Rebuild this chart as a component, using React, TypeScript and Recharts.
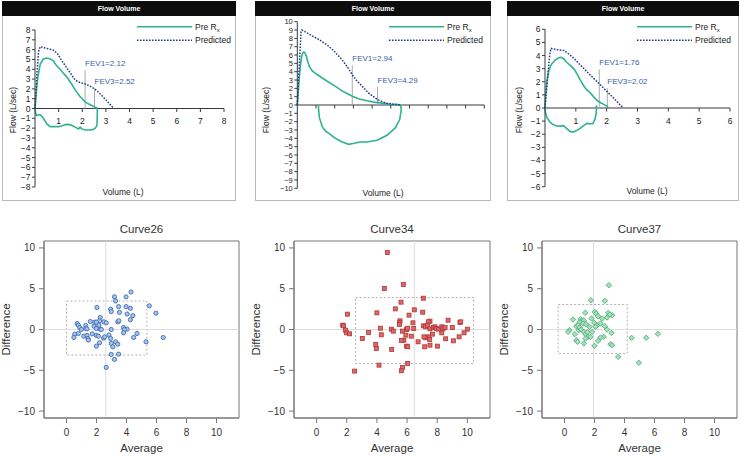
import React from 'react'
import {
  LineChart, Line, ScatterChart, Scatter, XAxis, YAxis,
  ReferenceLine, ReferenceDot, ReferenceArea, Label,
} from 'recharts'

type Pt = [number, number]

const FONT = '"Liberation Sans", Arial, Helvetica, sans-serif'
const GREEN = '#2fb38f'
const NAVY = '#1f3c8e'
const FEV_BLUE = '#3a62a8'

// ---- flow-volume loops, [volume (L), flow (L/sec)] ----
const loopAPre: Pt[] = [
  [0, 0], [0.05, 1.5], [0.12, 3.2], [0.22, 4.5], [0.35, 5.05], [0.5, 5.15], [0.65, 5.05],
  [0.78, 4.85], [0.9, 4.4], [1.0, 4.15], [1.15, 3.75], [1.35, 3.2], [1.55, 2.5], [1.7, 1.9],
  [1.9, 1.25], [2.06, 0.82], [2.2, 0.55], [2.4, 0.3], [2.55, 0.12], [2.63, 0.05],
  [2.64, -0.2], [2.63, -1.2], [2.62, -1.74], [2.55, -2.0], [2.41, -2.19], [2.13, -2.19],
  [1.98, -2.08], [1.91, -1.9], [1.84, -2.08], [1.7, -1.9], [1.55, -1.7], [1.4, -1.62],
  [1.28, -1.64], [1.15, -1.75], [1.0, -1.85], [0.64, -1.85], [0.5, -1.57], [0.33, -0.9],
  [0.21, -0.62], [0.07, -0.72], [0.02, -0.4], [0, 0],
]
const loopAPred: Pt[] = [
  [0, 0], [0.08, 3.5], [0.15, 5.8], [0.22, 6.3], [0.45, 6.15], [0.78, 5.95], [0.95, 5.6],
  [1.1, 5.0], [1.3, 4.3], [1.5, 3.6], [1.7, 2.9], [1.9, 2.65], [2.12, 2.5], [2.35, 2.25],
  [2.55, 1.95], [2.8, 1.4], [3.05, 0.75], [3.33, 0],
]
const loopAFev: Pt[] = [[2.12, 3.9], [2.52, 2.05]]
const loopAFevText = ['FEV1=2.12', 'FEV3=2.52']

const loopBPre: Pt[] = [
  [0, 0], [0.05, 1.5], [0.1, 3.2], [0.18, 5.0], [0.25, 6.0], [0.32, 6.35], [0.4, 6.3],
  [0.48, 5.9], [0.56, 5.2], [0.65, 4.6], [0.8, 4.1], [1.0, 3.75], [1.3, 3.3], [1.6, 2.85],
  [2.0, 2.3], [2.5, 1.55], [2.92, 1.08], [3.3, 0.72], [3.73, 0.5], [4.1, 0.35], [4.44, 0.25],
  [4.98, 0.08], [5.3, 0.05], [5.52, 0.02],
  [5.56, -0.52], [5.48, -1.72], [5.25, -2.72], [4.8, -3.64], [4.27, -4.24], [3.73, -4.44],
  [3.37, -4.44], [3.05, -4.6], [2.74, -4.72], [2.55, -4.55], [2.29, -4.32], [2.0, -3.95],
  [1.76, -3.52], [1.5, -3.1], [1.34, -2.64], [1.18, -1.52], [1.14, -0.6], [1.13, 0],
]
const loopBPred: Pt[] = [
  [0, 0], [0.1, 4.5], [0.2, 8.8], [0.25, 9.0], [0.45, 8.75], [0.8, 8.3], [1.2, 7.8],
  [1.6, 7.2], [2.0, 6.4], [2.4, 5.4], [2.7, 4.5], [2.95, 3.6], [3.2, 2.85], [3.46, 2.28],
  [3.8, 1.45], [4.27, 0.68], [4.6, 0.35], [4.8, 0.2], [5.25, 0.08], [5.56, 0],
]
const loopBFev: Pt[] = [[2.94, 4.77], [4.29, 2.16]]
const loopBFevText = ['FEV1=2.94', 'FEV3=4.29']

const loopCPre: Pt[] = [
  [1.67, 0.2], [1.66, -0.4], [1.62, -0.85], [1.55, -1.2], [1.45, -1.2], [1.36, -1.17],
  [1.25, -1.35], [1.14, -1.55], [1.02, -1.72], [0.93, -1.82], [0.82, -1.8], [0.7, -1.55],
  [0.6, -1.35], [0.5, -1.38], [0.38, -1.37], [0.25, -1.25], [0.15, -1.05], [0.06, -0.7],
  [0.01, -0.3], [0, 0], [0.02, 1.0], [0.06, 2.0], [0.12, 2.8], [0.2, 3.3], [0.33, 3.66],
  [0.45, 3.83], [0.52, 3.87], [0.62, 3.72], [0.72, 3.45], [0.82, 3.25], [0.95, 2.95],
  [1.05, 2.55], [1.14, 2.15], [1.25, 1.72], [1.35, 1.4], [1.47, 1.15], [1.58, 0.85],
  [1.7, 0.55], [1.82, 0.38], [1.95, 0.22], [2.03, 0.12], [2.04, 0],
]
const loopCPred: Pt[] = [
  [0, 0], [0.08, 2.2], [0.14, 3.8], [0.19, 4.55], [0.38, 4.45], [0.62, 4.38], [0.78, 4.1],
  [0.93, 3.8], [1.25, 3.03], [1.58, 2.26], [1.91, 1.5], [2.23, 0.74], [2.54, 0],
]
const loopCFev: Pt[] = [[1.76, 2.95], [2.02, 1.5]]
const loopCFevText = ['FEV1=1.76', 'FEV3=2.02']

const loopAXTicks = [1, 2, 3, 4, 5, 6, 7, 8]
const loopAYTicks = [-8, -7, -6, -5, -4, -3, -2, -1, 0, 1, 2, 3, 4, 5, 6, 7, 8]
const loopBXTicks = [1, 2, 3, 4, 5, 6, 7, 8, 9, 10]
const loopBYTicks = [-10, -9, -8, -7, -6, -5, -4, -3, -2, -1, 0, 1, 2, 3, 4, 5, 6, 7, 8, 9, 10]
const loopCXTicks = [1, 2, 3, 4, 5, 6]
const loopCYTicks = [-6, -5, -4, -3, -2, -1, 0, 1, 2, 3, 4, 5, 6]

// ---- Bland-Altman plots, [average, difference] ----
const curve26: Pt[] = [
  [3.2, 4.0], [3.27, 3.5], [4.3, 4.6], [3.97, 4.0], [2.03, 2.7], [2.94, 2.5], [2.98, 2.2],
  [3.47, 2.8], [3.53, 2.1], [3.97, 2.8], [4.26, 2.6], [5.52, 2.9], [5.96, 2.0], [4.04, 1.9],
  [4.42, 1.7], [4.26, 1.2], [3.42, 0.94], [3.49, 1.06], [2.25, 1.47], [2.2, 1.06], [2.49, 0.94],
  [2.65, 0.82], [1.59, 0.98], [1.88, 0.9], [1.99, 0.9], [2.16, 0.53], [1.83, 0.41], [1.28, 0.49],
  [0.71, 0.73], [0.79, 0.53], [0.88, 0.24], [0.99, 0], [1.28, 0.12], [1.37, 0.08], [1.99, 0.12],
  [2.25, 0.04], [2.32, 0], [2.98, 0], [3.8, 0.24], [4.04, 0.04], [3.86, 0], [3.8, -0.41],
  [4.7, -0.49], [4.48, -0.98], [6.45, -0.98], [5.3, -1.51], [0.55, -0.57], [0.49, -0.98],
  [0.79, -0.49], [1.15, -0.82], [1.37, -0.73], [1.43, -1.1], [1.46, -1.3], [1.72, -0.53],
  [1.99, -0.73], [2.12, -0.82], [1.99, -2.04], [2.2, -1.63], [2.47, -1.06], [2.54, -0.9],
  [2.83, -0.69], [2.94, -1.1], [2.98, -1.71], [3.09, -2.12], [3.27, -1.51], [3.42, -1.8],
  [2.98, -3.06], [3.47, -3.02], [3.2, -3.67], [2.65, -4.65],
]
const curve34: Pt[] = [
  [4.69, 9.43], [5.75, 5.51], [4.49, 5.02], [5.6, 3.35], [7.08, 3.84], [5.22, 2.53], [6.48, 2.41],
  [4.0, 2.04], [7.04, 2.12], [2.04, 1.88], [6.13, 1.76], [5.53, 1.06], [5.51, 0.86], [5.49, 0.61],
  [6.39, 0.82], [7.52, 1.02], [7.41, 0.94], [8.72, 1.14], [9.51, 0.86], [9.56, 0.94], [1.73, 0.53],
  [1.79, 0.45], [1.92, -0.08], [1.99, -0.41], [2.19, -0.53], [4.23, 0.16], [4.96, 0.04],
  [5.09, -0.2], [5.69, -0.2], [5.97, 0], [6.04, 0.16], [6.44, 0.12], [7.08, 0.45], [7.23, 0.33],
  [7.35, 0.53], [7.52, 0.08], [7.74, 0.24], [7.85, 0.33], [7.94, 0.12], [8.08, 0.04], [8.3, 0.33],
  [8.38, 0.08], [8.52, 0.24], [9.0, 0.24], [10.0, 0.04], [9.78, -0.41], [9.45, -0.9], [8.3, -0.41],
  [8.56, -1.14], [9.07, -1.39], [7.68, -0.57], [7.41, -0.9], [7.5, -1.22], [7.23, -1.02],
  [7.12, -0.9], [7.52, -1.92], [8.01, -2.04], [7.17, -2.12], [6.73, -1.51], [6.28, -0.82],
  [5.92, -0.69], [5.79, -1.31], [5.62, -1.35], [5.97, -2.04], [6.04, -2.12], [4.98, -2.45],
  [4.29, -0.65], [3.45, -0.37], [3.03, -1.1], [3.92, -1.84], [3.96, -2.33], [4.14, -4.37],
  [6.04, -4.16], [5.69, -4.65], [5.62, -5.06], [2.52, -5.1],
]
const curve37: Pt[] = [
  [2.96, 5.43], [1.76, 3.59], [2.69, 3.51], [1.38, 2.04], [2.02, 2.16], [2.11, 1.96], [2.91, 2.04],
  [3.18, 1.76], [3.02, 1.84], [2.84, 1.47], [2.24, 1.63], [1.8, 1.35], [2.51, 1.35], [0.56, 1.22],
  [1.07, 1.27], [1.13, 1.02], [1.29, 1.14], [1.0, 0.86], [1.24, 0.73], [0.78, 0.41], [0.91, 0.53],
  [1.44, 0.65], [1.67, 0.33], [1.98, 0.82], [2.18, 0.53], [2.4, 0.73], [2.69, 0.41], [2.07, 0.33],
  [0.33, -0.08], [0.24, -0.29], [0.69, -0.57], [0.96, -0.08], [1.02, 0.24], [1.11, 0],
  [1.29, -0.29], [1.4, -0.57], [1.53, -0.33], [1.56, -0.9], [1.4, -1.1], [1.73, -0.9],
  [1.84, -0.29], [2.84, 0], [3.13, -0.41], [2.62, -0.9], [2.4, -0.98], [2.24, -1.39], [2.0, -2.0],
  [0.78, -1.31], [0.87, -1.51], [1.29, -1.71], [3.07, -1.8], [3.18, -1.92], [3.58, -3.35],
  [4.47, -1.02], [5.44, -1.02], [6.22, -0.53], [4.96, -4.08],
]
// mean average (vertical guide) and limits box for each curve
const curve26Mean = 2.62
const curve26Box = { x1: 0, x2: 5.36, y1: -3.13, y2: 3.49 }
const curve34Mean = 6.48
const curve34Box = { x1: 2.59, x2: 10.4, y1: -4.16, y2: 3.92 }
const curve37Mean = 1.93
const curve37Box = { x1: -0.42, x2: 4.18, y1: -2.94, y2: 3.06 }

const avgTicks = [0, 2, 4, 6, 8, 10]
const diffTicks = [-10, -5, 0, 5, 10]
const AVG_DOMAIN: [number, number] = [-1.5, 11.5]
const DIFF_DOMAIN: [number, number] = [-10.85, 10.85]

const toXY = (pts: Pt[]) => pts.map(([x, y]) => ({ x, y }))
const fmt = (v: number) => (v < 0 ? `\u2212${-v}` : `${v}`)

type FlowCfg = {
  boxLeft: number; boxRight: number
  plotLeft: number; plotRight: number; plotTop: number; plotBottom: number
  xMax: number; yMax: number; xTicks: number[]; yTicks: number[]; showXLabels: boolean
  pre: Pt[]; pred: Pt[]; fev: Pt[]; fevText: string[]
  legendX: number; volCx: number; flowDist: number; yFont: number
}

const flowPanels: FlowCfg[] = [
  {
    boxLeft: 2, boxRight: 235, plotLeft: 35, plotRight: 223, plotTop: 30, plotBottom: 187,
    xMax: 8, yMax: 8, xTicks: loopAXTicks, yTicks: loopAYTicks, showXLabels: true,
    pre: loopAPre, pred: loopAPred, fev: loopAFev, fevText: loopAFevText,
    legendX: 137, volCx: 123, flowDist: 22, yFont: 8.5,
  },
  {
    boxLeft: 255, boxRight: 490, plotLeft: 297.3, plotRight: 483.3, plotTop: 21.7, plotBottom: 188.3,
    xMax: 10, yMax: 10, xTicks: loopBXTicks, yTicks: loopBYTicks, showXLabels: false,
    pre: loopBPre, pred: loopBPred, fev: loopBFev, fevText: loopBFevText,
    legendX: 389, volCx: 383, flowDist: 31, yFont: 7.5,
  },
  {
    boxLeft: 507, boxRight: 738, plotLeft: 545, plotRight: 729, plotTop: 29.3, plotBottom: 186.7,
    xMax: 6, yMax: 6, xTicks: loopCXTicks, yTicks: loopCYTicks, showXLabels: true,
    pre: loopCPre, pred: loopCPred, fev: loopCFev, fevText: loopCFevText,
    legendX: 637, volCx: 647, flowDist: 26, yFont: 8.5,
  },
]

const CHART_H = 201

function FlowPanel({ c }: { c: FlowCfg }) {
  const w = c.boxRight - c.boxLeft + 1
  return (
    <>
      <div style={{ position: 'absolute', left: c.boxLeft, top: 1, width: w, height: 200, boxSizing: 'border-box', border: '1px solid #b8b8b8' }} />
      <div style={{ position: 'absolute', left: c.boxLeft, top: 1, width: w, height: 15, background: '#0d0d0d', color: '#fff', fontSize: 7, fontWeight: 'bold', lineHeight: '15px', textAlign: 'center' }}>
        Flow Volume
      </div>
      <div style={{ position: 'absolute', left: c.boxLeft, top: 0 }}>
        <LineChart width={w} height={CHART_H} margin={{ top: c.plotTop, right: c.boxRight - c.plotRight, bottom: 0, left: 0 }}>
          <XAxis type="number" dataKey="x" domain={[0, c.xMax]} axisLine={false} tickLine={false} tick={false} height={CHART_H - c.plotBottom}>
            <Label content={({ viewBox }: any) => (
              <text x={c.volCx - c.boxLeft} y={viewBox.y + 7.5} textAnchor="middle" fontSize={8.5} fill="#222">Volume (L)</text>
            )} />
          </XAxis>
          <YAxis type="number" domain={[-c.yMax, c.yMax]} ticks={c.yTicks} interval={0} width={c.plotLeft - c.boxLeft}
            stroke="#3a3a3a" tickSize={3} tickMargin={1.5} tick={{ fontSize: c.yFont, fill: '#222' }} tickFormatter={fmt}>
            <Label content={({ viewBox }: any) => (
              <text transform={`translate(${viewBox.x + viewBox.width - c.flowDist},110) rotate(-90)`} dy="0.35em" textAnchor="middle" fontSize={8.5} fill="#222">Flow (L/sec)</text>
            )} />
          </YAxis>
          <ReferenceLine y={0} stroke="#3a3a3a" />
          {c.xTicks.map((t) => (
            <ReferenceDot key={`tk${t}`} x={t} y={0} ifOverflow="visible" shape={(p: any) => (
              <g>
                <line x1={p.cx} y1={p.cy} x2={p.cx} y2={p.cy + 3.5} stroke="#3a3a3a" />
                {c.showXLabels && <text x={p.cx} y={p.cy + 15.5} textAnchor="middle" fontSize={8.5} fill="#222">{t}</text>}
              </g>
            )} />
          ))}
          {c.fev.map(([fx, top], i) => (
            <ReferenceLine key={`fl${i}`} segment={[{ x: fx, y: 0 }, { x: fx, y: top }]} stroke="#a8a8a8" />
          ))}
          {c.fev.map(([fx, top], i) => (
            <ReferenceDot key={`ft${i}`} x={fx} y={top} ifOverflow="visible" shape={(p: any) => (
              <text x={p.cx} y={p.cy - 4} fontSize={8} fill={FEV_BLUE}>{c.fevText[i]}</text>
            )} />
          ))}
          <Line data={toXY(c.pre)} dataKey="y" stroke={GREEN} strokeWidth={1.6} dot={false} activeDot={false} isAnimationActive={false} />
          <Line data={toXY(c.pred)} dataKey="y" stroke={NAVY} strokeWidth={1.5} strokeDasharray="1.6 1.4" dot={false} activeDot={false} isAnimationActive={false} />
        </LineChart>
      </div>
      <svg style={{ position: 'absolute', left: c.legendX, top: 18 }} width={100} height={30}>
        <line x1={0} y1={8.7} x2={55} y2={8.7} stroke={GREEN} strokeWidth={1.6} />
        <text x={58} y={11.7} fontSize={8.5} fill="#222">Pre R<tspan fontSize={6} dy={2}>x</tspan></text>
        <line x1={0} y1={22.3} x2={55} y2={22.3} stroke={NAVY} strokeWidth={1.5} strokeDasharray="1.6 1.4" />
        <text x={58} y={25.3} fontSize={8.5} fill="#222">Predicted</text>
      </svg>
    </>
  )
}

type Box = { x1: number; x2: number; y1: number; y2: number }
type BACfg = {
  title: string; left: number; width: number; yWidth: number; right: number
  pts: Pt[]; mean: number; box: Box; shape: (p: any) => React.ReactElement
}

const circleShape = (p: any) => <circle cx={p.cx} cy={p.cy} r={2.1} fill="#a9c3e8" stroke="#3e6db5" strokeWidth={0.9} />
const squareShape = (p: any) => <rect x={p.cx - 2} y={p.cy - 2} width={4} height={4} fill="#d76a6a" stroke="#b43434" strokeWidth={0.8} />
const diamondShape = (p: any) => (
  <path d={`M${p.cx},${p.cy - 2.7}L${p.cx + 2.7},${p.cy}L${p.cx},${p.cy + 2.7}L${p.cx - 2.7},${p.cy}Z`} fill="#a6e0bb" stroke="#45ab72" strokeWidth={0.8} />
)

const baPanels: BACfg[] = [
  { title: 'Curve26', left: 0, width: 245, yWidth: 44, right: 6, pts: curve26, mean: curve26Mean, box: curve26Box, shape: circleShape },
  { title: 'Curve34', left: 245, width: 250, yWidth: 49, right: 5, pts: curve34, mean: curve34Mean, box: curve34Box, shape: squareShape },
  { title: 'Curve37', left: 490, width: 250, yWidth: 52, right: 3, pts: curve37, mean: curve37Mean, box: curve37Box, shape: diamondShape },
]

function BlandAltman({ s }: { s: BACfg }) {
  return (
    <div style={{ position: 'absolute', left: s.left, top: 210 }}>
      <ScatterChart width={s.width} height={247} margin={{ top: 31, right: s.right, bottom: 0, left: 0 }}>
        <XAxis type="number" dataKey="x" domain={AVG_DOMAIN} ticks={avgTicks} interval={0} height={39}
          stroke="#777" tickSize={5} tickMargin={6} tick={{ fontSize: 10, fill: '#333' }}>
          <Label value="Average" position="insideBottom" offset={5} fontSize={11.5} fill="#333" />
        </XAxis>
        <YAxis type="number" dataKey="y" domain={DIFF_DOMAIN} ticks={diffTicks} interval={0} width={s.yWidth}
          stroke="#777" tickSize={5} tickMargin={4} tick={{ fontSize: 10, fill: '#333' }} tickFormatter={fmt}>
          <Label content={({ viewBox }: any) => (
            <text transform={`translate(${viewBox.x + viewBox.width - 38},${viewBox.y + viewBox.height / 2}) rotate(-90)`} dy="0.35em" textAnchor="middle" fontSize={11.5} fill="#333">Difference</text>
          )} />
        </YAxis>
        <ReferenceLine x={s.mean} stroke="#dcdcdc" />
        <ReferenceLine y={0} stroke="#dcdcdc" />
        <ReferenceArea x1={s.box.x1} x2={s.box.x2} y1={s.box.y1} y2={s.box.y2} fill="none" fillOpacity={0} stroke="#b0b0b0" strokeDasharray="2 2" />
        <ReferenceArea x1={AVG_DOMAIN[0]} x2={AVG_DOMAIN[1]} y1={DIFF_DOMAIN[0]} y2={DIFF_DOMAIN[1]} fill="none" fillOpacity={0} stroke="#777"
          label={{ value: s.title, position: 'top', offset: 8.5, fontSize: 11.5, fill: '#333' }} />
        <Scatter data={toXY(s.pts)} shape={s.shape} isAnimationActive={false} />
      </ScatterChart>
    </div>
  )
}

export default function App() {
  return (
    <div style={{ position: 'absolute', left: 0, top: 0, width: 740, height: 457, background: '#fff', fontFamily: FONT, overflow: 'hidden' }}>
      {flowPanels.map((c, i) => <FlowPanel key={i} c={c} />)}
      {baPanels.map((s) => <BlandAltman key={s.title} s={s} />)}
    </div>
  )
}
